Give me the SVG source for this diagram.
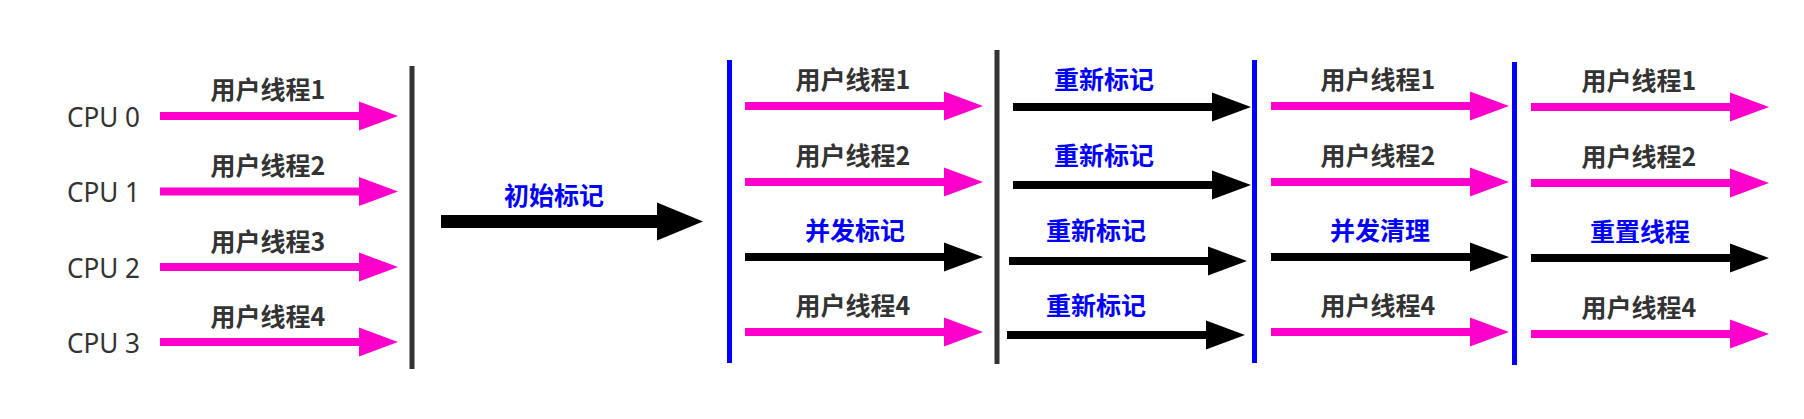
<svg xmlns="http://www.w3.org/2000/svg" xmlns:xlink="http://www.w3.org/1999/xlink" width="1804" height="419" viewBox="0 0 1804 419">
<style>
.cpu{font-family:"Noto Sans","Open Sans",sans-serif;font-size:28px;fill:#333333}
.lb{font-family:"Noto Sans CJK SC",sans-serif;font-size:25px;font-weight:bold;text-anchor:middle}
.g{fill:#333333}
.b{fill:#0000ff}
.pink{fill:#ff00cc}
.blk{fill:#000000}
.dark{fill:#333333}
.blue{fill:#0000ff}
</style>
<defs>
<path id="arr" d="M0,-4 H199 V-14.5 L238,0 L199,14.5 V4 H0 Z"/>
<path id="big" d="M0,-6.5 H216 V-19 L262,0 L216,19 V6.5 H0 Z"/>
</defs>
<rect width="1804" height="419" fill="#ffffff"/>
<g id="cpu-labels">
<text class="cpu" x="67" y="126.5" textLength="73" lengthAdjust="spacingAndGlyphs">CPU 0</text>
<text class="cpu" x="67" y="202" textLength="73" lengthAdjust="spacingAndGlyphs">CPU 1</text>
<text class="cpu" x="67" y="277.5" textLength="73" lengthAdjust="spacingAndGlyphs">CPU 2</text>
<text class="cpu" x="67" y="353" textLength="73" lengthAdjust="spacingAndGlyphs">CPU 3</text>
</g>
<g id="barriers">
<rect class="dark" x="409.5" y="66" width="5" height="303"/>
<rect class="blue" x="727" y="60" width="5" height="303"/>
<rect class="dark" x="994.5" y="50" width="5" height="314"/>
<rect class="blue" x="1252" y="60" width="5" height="303"/>
<rect class="blue" x="1512" y="62" width="5" height="303"/>
</g>
<g id="connectors">
<use href="#arr" class="pink" x="160" y="116"/>
<use href="#arr" class="pink" x="160" y="191.5"/>
<use href="#arr" class="pink" x="160" y="267"/>
<use href="#arr" class="pink" x="160" y="342"/>
<use href="#big" class="blk" x="441" y="221.5"/>
<use href="#arr" class="pink" x="745" y="106"/>
<use href="#arr" class="pink" x="745" y="182"/>
<use href="#arr" class="blk" x="745" y="257"/>
<use href="#arr" class="pink" x="745" y="332"/>
<use href="#arr" class="blk" x="1013" y="107"/>
<use href="#arr" class="blk" x="1013" y="185"/>
<use href="#arr" class="blk" x="1009" y="261"/>
<use href="#arr" class="blk" x="1007" y="335"/>
<use href="#arr" class="pink" x="1271" y="106"/>
<use href="#arr" class="pink" x="1271" y="182"/>
<use href="#arr" class="blk" x="1271" y="257"/>
<use href="#arr" class="pink" x="1271" y="332"/>
<use href="#arr" class="pink" x="1531" y="107"/>
<use href="#arr" class="pink" x="1531" y="183"/>
<use href="#arr" class="blk" x="1531" y="258"/>
<use href="#arr" class="pink" x="1531" y="334"/>
</g>
<g id="col1-labels">
<text class="lb g" x="268" y="99">用户线程1</text>
<text class="lb g" x="268" y="175">用户线程2</text>
<text class="lb g" x="268" y="251">用户线程3</text>
<text class="lb g" x="268" y="326">用户线程4</text>
</g>
<g id="initial-mark">
<text class="lb b" x="554" y="205">初始标记</text>
</g>
<g id="col2-labels">
<text class="lb g" x="853" y="89">用户线程1</text>
<text class="lb g" x="853" y="165">用户线程2</text>
<text class="lb b" x="855" y="240">并发标记</text>
<text class="lb g" x="853" y="315">用户线程4</text>
</g>
<g id="col3-labels">
<text class="lb b" x="1104" y="89">重新标记</text>
<text class="lb b" x="1104" y="165">重新标记</text>
<text class="lb b" x="1096" y="240">重新标记</text>
<text class="lb b" x="1096" y="315">重新标记</text>
</g>
<g id="col4-labels">
<text class="lb g" x="1378" y="89">用户线程1</text>
<text class="lb g" x="1378" y="165">用户线程2</text>
<text class="lb b" x="1380" y="240">并发清理</text>
<text class="lb g" x="1378" y="315">用户线程4</text>
</g>
<g id="col5-labels">
<text class="lb g" x="1639" y="90">用户线程1</text>
<text class="lb g" x="1639" y="166">用户线程2</text>
<text class="lb b" x="1640" y="241">重置线程</text>
<text class="lb g" x="1639" y="317">用户线程4</text>
</g>
</svg>
